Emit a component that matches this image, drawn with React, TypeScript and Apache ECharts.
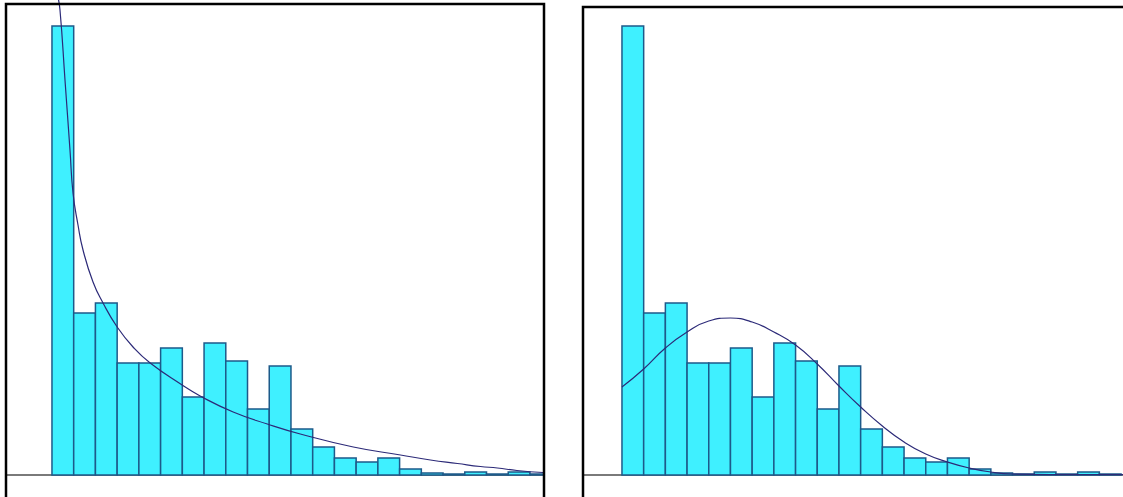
import React, { useEffect, useRef } from "react";
import * as echarts from "echarts";

// Histogram bin counts (same sample in both panels), bins are 1 unit wide starting at 0
const binCounts = [449, 162, 172, 112, 112, 127, 78, 132, 114, 66, 109, 46, 28, 17, 13, 17, 6, 2, 1, 3, 1, 3, 1];

// Left panel: fitted decreasing density
const leftCurveX = [0.253, 0.369, 0.599, 0.829, 0.968, 1.198, 1.429, 1.889, 2.35, 3.0, 3.73, 4.52, 5.99, 6.82, 8.34, 9.91, 11.43, 13.87, 16.04, 17.42, 18.66, 19.72, 20.5, 21.4, 22.6];
const leftCurveY = [480, 465, 395, 325, 282, 250, 225, 193, 172, 148, 128, 112, 90, 79, 63, 51, 41, 28, 20, 15, 11.5, 8.5, 7, 4.5, 2.5];

// Right panel: fitted normal-like density
const rightCurveX = [0.0, 1.0, 2.0, 3.0, 4.0, 5.0, 6.0, 7.0, 8.0, 9.0, 10.0, 11.0, 12.0, 13.0, 14.0, 15.0, 16.0, 17.0, 18.0, 20.0, 23.1];
const rightCurveY = [88, 106, 127, 143, 154, 157, 153, 143, 130, 111, 89, 68, 49, 33, 21, 13, 7, 3, 1, 0.4, 0.3];

const W = 1123;
const H = 497;

function histData() {
  return binCounts.map((v, i) => [i, i + 1, v]);
}

function renderBar(params: any, api: any) {
  const start = api.coord([api.value(0), 0]);
  const end = api.coord([api.value(1), api.value(2)]);
  const rect = echarts.graphic.clipRectByRect(
    { x: start[0], y: end[1], width: end[0] - start[0], height: start[1] - end[1] },
    {
      x: params.coordSys.x,
      y: params.coordSys.y,
      width: params.coordSys.width,
      height: params.coordSys.height,
    }
  );
  if (!rect) return null;
  return {
    type: "rect",
    shape: rect,
    style: { fill: "#3ff0ff", stroke: "#1d5a8a", lineWidth: 1.5 },
  };
}

export default function App() {
  const ref = useRef<HTMLDivElement>(null);
  useEffect(() => {
    if (!ref.current) return;
    const chart = echarts.init(ref.current, null, { renderer: "svg" });
    const xAxisCommon = {
      type: "value" as const,
      axisLine: { show: true, onZero: false, lineStyle: { color: "#7a7a7a", width: 2 } },
      axisTick: { show: false },
      axisLabel: { show: false },
      splitLine: { show: false },
    };
    const yAxisCommon = {
      type: "value" as const,
      min: 0,
      max: 475,
      show: false,
      splitLine: { show: false },
    };
    const curveStyle = { color: "#2c2a78", width: 1.2 };
    chart.setOption({
      animation: false,
      backgroundColor: "#ffffff",
      grid: [
        { left: 7, right: W - 543, top: 0, bottom: H - 475 },
        { left: 584, right: 0, top: 0, bottom: H - 475 },
      ],
      xAxis: [
        { ...xAxisCommon, gridIndex: 0, min: -2.07, max: 22.6 },
        { ...xAxisCommon, gridIndex: 1, min: -1.75, max: 23.09 },
      ],
      yAxis: [
        { ...yAxisCommon, gridIndex: 0 },
        { ...yAxisCommon, gridIndex: 1 },
      ],
      series: [
        {
          type: "custom",
          xAxisIndex: 0,
          yAxisIndex: 0,
          renderItem: renderBar,
          encode: { x: [0, 1], y: 2 },
          data: histData(),
          z: 2,
        },
        {
          type: "custom",
          xAxisIndex: 1,
          yAxisIndex: 1,
          renderItem: renderBar,
          encode: { x: [0, 1], y: 2 },
          data: histData(),
          z: 2,
        },
        {
          type: "line",
          xAxisIndex: 0,
          yAxisIndex: 0,
          data: leftCurveX.map((x, i) => [x, leftCurveY[i]]),
          smooth: 0.5,
          showSymbol: false,
          lineStyle: curveStyle,
          z: 5,
        },
        {
          type: "line",
          xAxisIndex: 1,
          yAxisIndex: 1,
          data: rightCurveX.map((x, i) => [x, rightCurveY[i]]),
          smooth: 0.5,
          showSymbol: false,
          lineStyle: curveStyle,
          z: 5,
        },
      ],
      graphic: [
        {
          type: "rect",
          shape: { x: 6, y: 4, width: 538, height: 600 },
          style: { fill: "none", stroke: "#000000", lineWidth: 2.5 },
          z: 100,
        },
        {
          type: "rect",
          shape: { x: 583, y: 7, width: 700, height: 600 },
          style: { fill: "none", stroke: "#000000", lineWidth: 2.5 },
          z: 100,
        },
      ],
    });
    return () => chart.dispose();
  }, []);
  return (
    <div
      ref={ref}
      style={{ position: "fixed", left: 0, top: 0, width: W, height: H, background: "#fff" }}
    />
  );
}
